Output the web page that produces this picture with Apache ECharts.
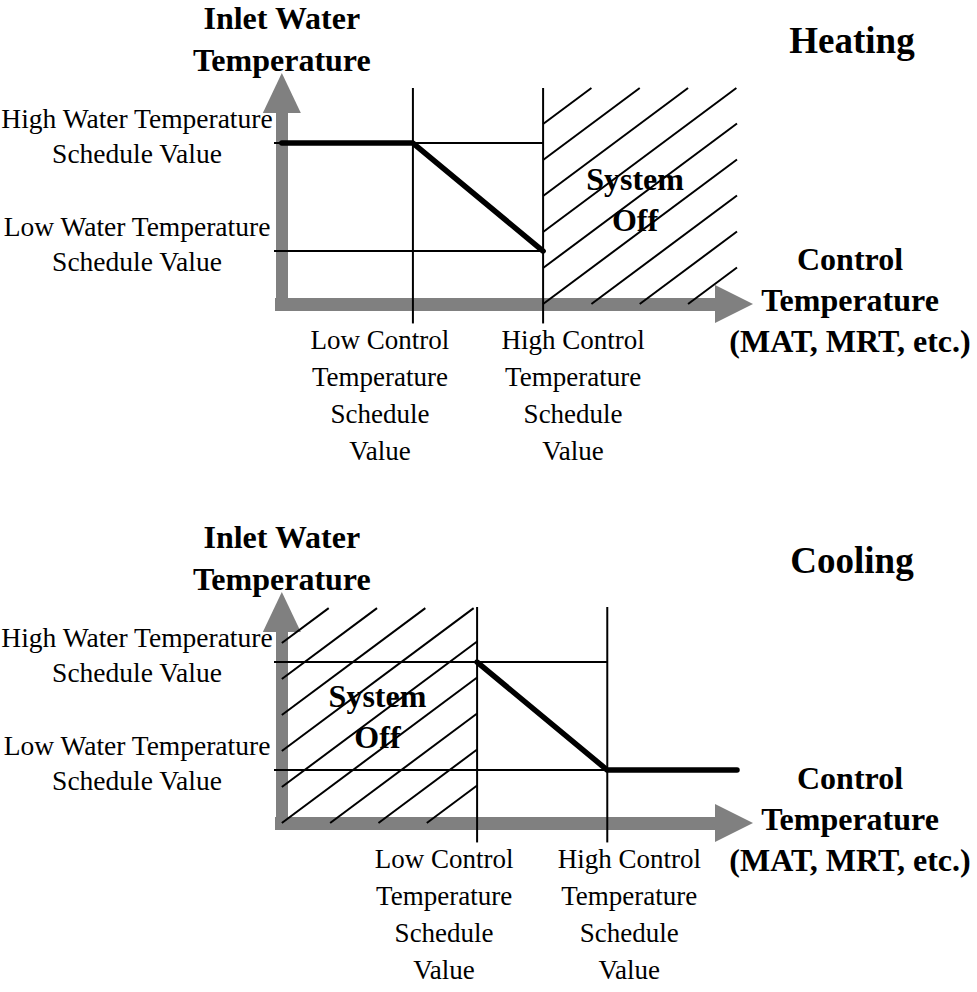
<!DOCTYPE html>
<html><head><meta charset="utf-8">
<script src="https://cdn.jsdelivr.net/npm/echarts@6/dist/echarts.min.js"></script>
<style>html,body{margin:0;padding:0;background:#fff}#c{width:977px;height:992px}</style>
</head><body><div id="c"></div>
<script>
// ---------------- data ----------------
const panelTitles = ['Heating', 'Cooling'];
const yAxisName = 'Inlet Water\nTemperature';
const xAxisName = 'Control\nTemperature\n(MAT, MRT, etc.)';
const waterTempValues = [24.5, 74.5];
const waterTempLabels = ['Low Water Temperature\nSchedule Value', 'High Water Temperature\nSchedule Value'];
const controlLabels = ['Low Control\nTemperature\nSchedule\nValue', 'High Control\nTemperature\nSchedule\nValue'];
const heatingControlValues = [28.8, 57.4];
const coolingControlValues = [42.9, 71.5];
const heatingCurve = [[0, 74.5], [28.8, 74.5], [57.4, 24.5]];
const coolingCurve = [[42.9, 74.5], [71.5, 24.5], [100, 24.5]];
const heatingOffZone = [57.4, 100, 0, 100];   // xFrom, xTo, yFrom, yTo
const coolingOffZone = [0, 42.9, 0, 99.5];
const offLabel = 'System\nOff';
// guide line extents (data units)
const guideLeft = -7, guideBottom = -9, guideTop = 100;
const heatingGuideRight = [57.4, 57.4];   // right end of low / high water guides
const coolingGuideRight = [100.5, 71.5];

// ---------------- styles ----------------
const FONT = '"Liberation Serif", "Times New Roman", serif';
const GRAY = '#808080';
const heatingLabelShift = [-33, 30];
const coolingLabelShift = [-33, 22];

function nearestIndex(arr, v) {
  let best = 0;
  arr.forEach((a, i) => { if (Math.abs(a - v) < Math.abs(arr[best] - v)) best = i; });
  return best;
}

function makeXAxis(gridIndex, values, shifts) {
  const rich = {};
  shifts.forEach((s, i) => {
    rich['s' + i] = {
      fontSize: 27, fontFamily: FONT, color: '#000', lineHeight: 37,
      width: 1, align: 'center',
      padding: s < 0 ? [0, -2 * s, 0, 0] : [0, 0, 0, 2 * s]
    };
  });
  return {
    gridIndex, type: 'value', min: -1.5, max: 100,
    axisLine: {
      show: true, onZero: false,
      lineStyle: { color: GRAY, width: 13, cap: 'butt' },
      symbol: ['none', 'triangle'], symbolSize: [38, 38], symbolOffset: [0, -3]
    },
    axisTick: { show: false }, splitLine: { show: false },
    axisLabel: {
      show: true, customValues: values, margin: 17,
      showMinLabel: true, showMaxLabel: true, hideOverlap: false,
      align: 'center', verticalAlign: 'top',
      fontSize: 27, fontFamily: FONT, color: '#000', lineHeight: 37,
      formatter: function (v) {
        const i = nearestIndex(values, v);
        return controlLabels[i].split('\n').map(l => '{s' + i + '|' + l + '}').join('\n');
      },
      rich
    },
    name: xAxisName + '\n{g| }', nameLocation: 'end', nameGap: 113, nameMoveOverlap: false,
    nameTextStyle: {
      fontSize: 32, fontWeight: 'bold', fontFamily: FONT, color: '#000',
      align: 'center', verticalAlign: 'middle', lineHeight: 41,
      rich: { g: { fontSize: 2, lineHeight: 8 } }
    }
  };
}

function makeYAxis(gridIndex) {
  return {
    gridIndex, type: 'value', min: 0, max: 100,
    axisLine: {
      show: true, onZero: true,
      lineStyle: { color: GRAY, width: 12, cap: 'butt' },
      symbol: ['none', 'triangle'], symbolSize: [38, 40], symbolOffset: [0, -5]
    },
    axisTick: { show: false }, splitLine: { show: false },
    axisLabel: {
      show: true, customValues: waterTempValues, margin: 138,
      showMinLabel: true, showMaxLabel: true, hideOverlap: false,
      align: 'center', verticalAlign: 'middle',
      fontSize: 27.5, fontFamily: FONT, color: '#000', lineHeight: 35,
      formatter: function (v) { return waterTempLabels[nearestIndex(waterTempValues, v)] + '\n{g| }'; },
      rich: { g: { fontSize: 2, lineHeight: 14 } }
    },
    name: yAxisName, nameLocation: 'end', nameGap: 7, nameMoveOverlap: false,
    nameTextStyle: {
      fontSize: 32, fontWeight: 'bold', fontFamily: FONT, color: '#000',
      align: 'center', verticalAlign: 'bottom', lineHeight: 42
    }
  };
}

function guideSeries(axisIndex, controlValues, guideRight) {
  const out = [];
  waterTempValues.forEach((w, i) => {
    out.push([[guideLeft, w], [guideRight[i], w]]);
  });
  controlValues.forEach(c => {
    out.push([[c, guideBottom], [c, guideTop]]);
  });
  return out.map(d => ({
    type: 'line', xAxisIndex: axisIndex, yAxisIndex: axisIndex, data: d,
    symbol: 'none', clip: false, silent: true, z: 2,
    lineStyle: { color: '#000', width: 2 }
  }));
}

function curveSeries(axisIndex, data) {
  return {
    type: 'line', xAxisIndex: axisIndex, yAxisIndex: axisIndex, data,
    symbol: 'none', clip: false, silent: true, z: 4,
    lineStyle: { color: '#000', width: 5.5, cap: 'round', join: 'round' }
  };
}

function offZoneSeries(axisIndex, zone, textShift) {
  const step = 36, slope = 0.745;
  return {
    type: 'custom', xAxisIndex: axisIndex, yAxisIndex: axisIndex, z: 3, silent: true,
    data: [zone],
    encode: { x: [0, 1], y: [2, 3] },
    renderItem: function (params, api) {
      const tl = api.coord([api.value(0), api.value(3)]);
      const br = api.coord([api.value(1), api.value(2)]);
      const x0 = tl[0], yTop = tl[1], yBot = br[1];
      const w = br[0] - tl[0], h = yBot - yTop;
      const children = [];
      const mMin = -Math.floor(h / step), mMax = Math.floor(slope * w / step);
      for (let m = mMin; m <= mMax; m++) {
        const c = yBot + m * step;
        const a = Math.max(0, (c - yBot) / slope);
        const b = Math.min(w, (c - yTop) / slope);
        if (b - a < 3) continue;
        children.push({
          type: 'line',
          shape: { x1: x0 + a, y1: c - slope * a, x2: x0 + b, y2: c - slope * b },
          style: { stroke: '#000', lineWidth: 2 }
        });
      }
      children.push({
        type: 'text', x: x0 + w / 2 + textShift[0], y: yTop + h / 2 + textShift[1],
        style: {
          text: offLabel, font: 'bold 32px ' + FONT, fill: '#000',
          align: 'center', verticalAlign: 'middle', lineHeight: 41
        }
      });
      return { type: 'group', children };
    }
  };
}

const chart = echarts.init(document.getElementById('c'), null, { renderer: 'svg' });
chart.setOption({
  animation: false,
  backgroundColor: '#fff',
  title: panelTitles.map((t, i) => ({
    text: t, left: 852, top: i === 0 ? 22 : 542, textAlign: 'center', padding: 0,
    textStyle: { fontSize: 37, fontWeight: 'bold', fontFamily: FONT, color: '#000', lineHeight: 37 }
  })),
  grid: [
    { left: 275, top: 88, width: 462, height: 216, containLabel: false, outerBoundsMode: 'none' },
    { left: 275, top: 607, width: 462, height: 216, containLabel: false, outerBoundsMode: 'none' }
  ],
  xAxis: [makeXAxis(0, heatingControlValues, heatingLabelShift), makeXAxis(1, coolingControlValues, coolingLabelShift)],
  yAxis: [makeYAxis(0), makeYAxis(1)],
  series: [
    offZoneSeries(0, heatingOffZone, [-5, 3]),
    offZoneSeries(1, coolingOffZone, [-2, 1]),
    ...guideSeries(0, heatingControlValues, heatingGuideRight),
    ...guideSeries(1, coolingControlValues, coolingGuideRight),
    curveSeries(0, heatingCurve),
    curveSeries(1, coolingCurve)
  ]
});
</script>
</body></html>
